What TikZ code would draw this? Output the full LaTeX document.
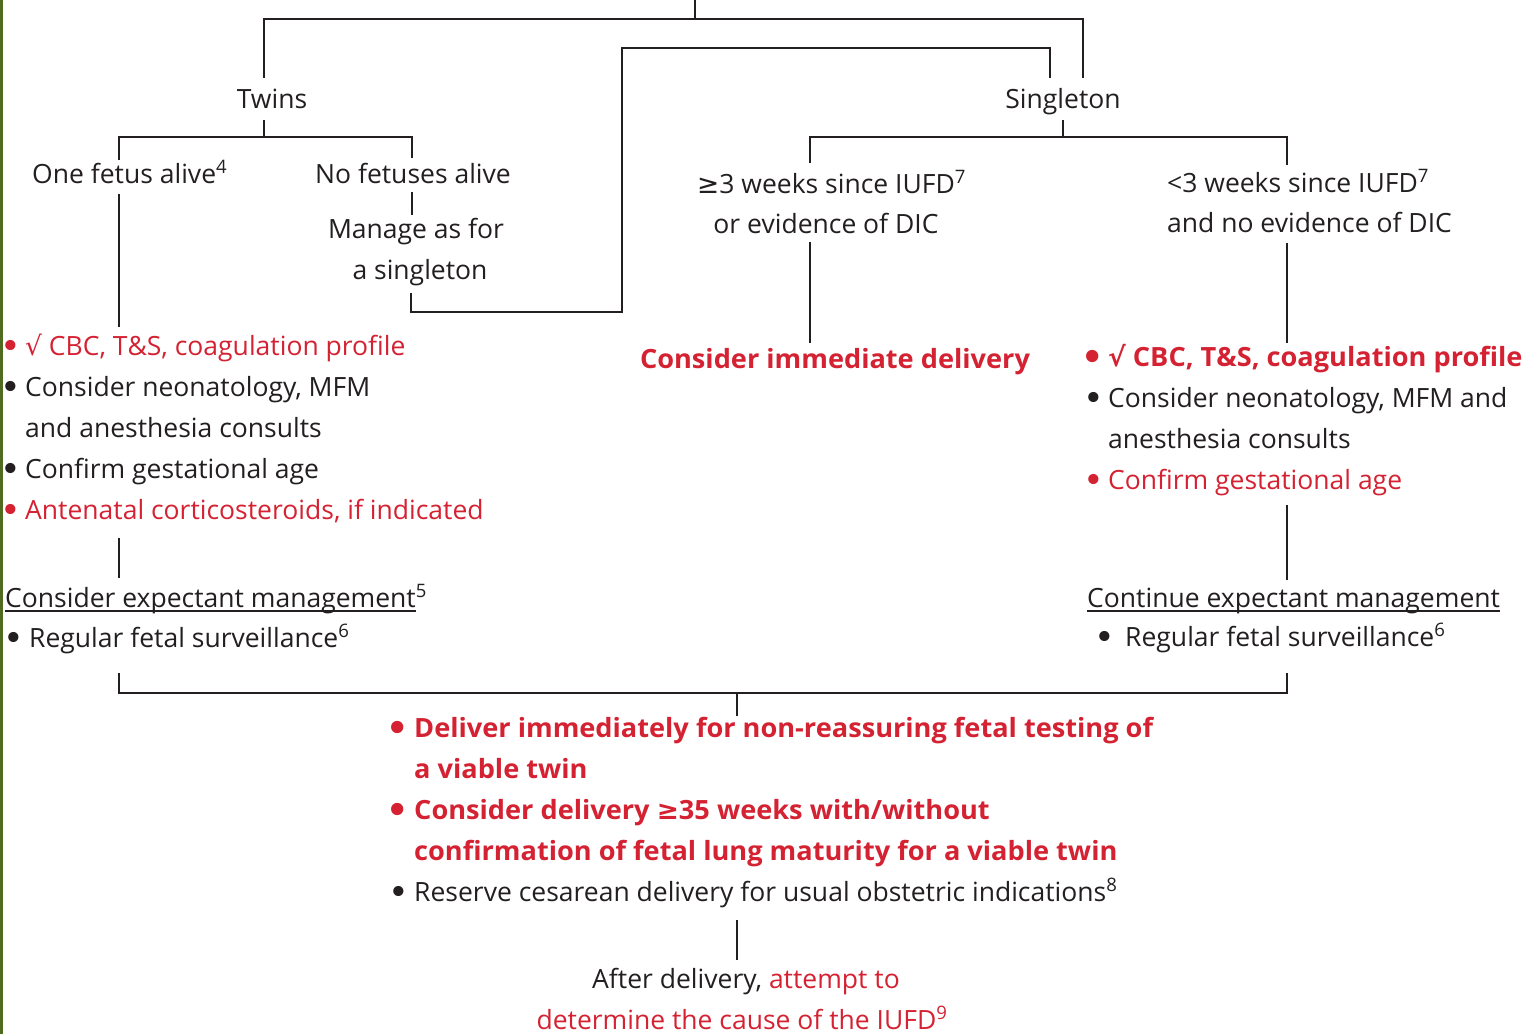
\documentclass[tikz,border=0pt]{standalone}
\usepackage{fontspec}
\setmainfont{Open Sans}[BoldFeatures={FakeStretch=1.025}]
\newfontfamily\symf{DejaVu Sans}
\definecolor{ink}{HTML}{231F20}
\definecolor{tred}{HTML}{D42232}
\definecolor{edge}{HTML}{4E6B1F}
\newcommand\fs{\fontsize{26.5}{32}\selectfont}
\newcommand\bul[1]{\llap{\raisebox{-3.5pt}{\symf\fontsize{35}{35}\selectfont •}\hspace{#1pt}}}
\newcommand\sqsym{{\symf √}}
\newcommand\gesym{{\symf ≥}}
\begin{document}
\begin{tikzpicture}[x=1pt,y=-1pt,
  every node/.style={inner sep=0pt,text=ink,font=\fs},
  lt/.style={anchor=base west},
  ct/.style={anchor=base},
  rtx/.style={text=tred},
  bd/.style={font=\fs\bfseries},
  conn/.style={draw=ink,line width=2pt},
  uline/.style={draw=ink,line width=1.4pt}]
\useasboundingbox (0,0) rectangle (1526,1034);
\fill[edge] (0,0) rectangle (3,1034);
% ---------- text nodes ----------
\node[ct] (twins) at (272,108) {Twins};
\node[ct] (single) at (1063,108) {Singleton};
\node[lt] (one) at (32,183) {One fetus alive\textsuperscript{4}};
\node[ct] (nofet) at (413,183) {No fetuses alive};
\node[ct] (man1) at (416,238) {Manage as for};
\node[ct] (man2) at (420,279) {a singleton};
\node[lt] (ge1) at (697,193) {\gesym3 weeks since IUFD\textsuperscript{7}};
\node[ct] (ge2) at (826,233) {or evidence of DIC};
\node[lt] (lt1) at (1167,192) {<3 weeks since IUFD\textsuperscript{7}};
\node[lt] (lt2) at (1167,232) {and no evidence of DIC};
\node[ct,bd,rtx] (immed) at (835,368) {Consider immediate delivery};
% left list
\node[lt,rtx] (l1) at (25,355) {\bul{4}\sqsym\ CBC, T\&S, coagulation profile};
\node[lt] (l2) at (25,396) {\bul{4}Consider neonatology, MFM};
\node[lt] (l3) at (25,437) {and anesthesia consults};
\node[lt] (l4) at (25,478) {\bul{4}Confirm gestational age};
\node[lt,rtx] (l5) at (25,519) {\bul{4}Antenatal corticosteroids, if indicated};
\node[lt] (lcem) at (5,607) {Consider expectant management\rlap{\textsuperscript{5}}};
\node[lt] (lreg) at (29,647) {\bul{5}Regular fetal surveillance\textsuperscript{6}};
% right list
\node[lt,bd,rtx] (r1) at (1108,366) {\bul{4}\sqsym\ CBC, T\&S, coagulation profile};
\node[lt] (r2) at (1108,407) {\bul{4}Consider neonatology, MFM and};
\node[lt] (r3) at (1108,448) {anesthesia consults};
\node[lt,rtx] (r4) at (1108,489) {\bul{4}Confirm gestational age};
\node[lt] (rcem) at (1087,607) {Continue expectant management};
\node[lt] (rreg) at (1125,646) {\bul{10}Regular fetal surveillance\textsuperscript{6}};
% bottom list
\node[lt,bd,rtx] (b1) at (414,737) {\bul{5}Deliver immediately for non-reassuring fetal testing of};
\node[lt,bd,rtx] (b2) at (414,778) {a viable twin};
\node[lt,bd,rtx] (b3) at (414,819) {\bul{5}Consider delivery \gesym35 weeks with/without};
\node[lt,bd,rtx] (b4) at (414,860) {confirmation of fetal lung maturity for a viable twin};
\node[lt] (b5) at (414,901) {\bul{5}Reserve cesarean delivery for usual obstetric indications\textsuperscript{8}};
\node[ct] (aft1) at (746,988) {After delivery, \textcolor{tred}{attempt to}};
\node[ct,rtx] (aft2) at (742,1029) {determine the cause of the IUFD\textsuperscript{9}};
% underlines
\draw[uline] ([yshift=-4pt]lcem.base west) -- ([yshift=-4pt]lcem.base east);
\draw[uline] ([yshift=-4pt]rcem.base west) -- ([yshift=-4pt]rcem.base east);
% ---------- connectors ----------
\coordinate (root) at (695,0);
\coordinate (rootj) at (695,19);
\coordinate (twT) at (264,78);
\coordinate (siT) at (1083,78);
\draw[conn] (root) -- (rootj);
\draw[conn] (twT) |- (rootj) -| (siT);
% no fetuses -> singleton
\coordinate (mB) at (411,293);
\coordinate (loopA) at (622,312);
\coordinate (loopB) at (622,48);
\coordinate (siT2) at (1050,78);
\draw[conn] (mB) |- (loopA) -- (loopB) -| (siT2);
% twins split
\coordinate (twB) at (264,120);
\coordinate (twJ) at (264,137);
\coordinate (oneT) at (119,160);
\coordinate (noT) at (412,158);
\draw[conn] (twB) -- (twJ);
\draw[conn] (oneT) |- (twJ) -| (noT);
\coordinate (oneB) at (119,194);
\coordinate (l1T) at (119,327);
\draw[conn] (oneB) -- (l1T);
\coordinate (noB) at (412,192);
\coordinate (manT) at (412,215);
\draw[conn] (noB) -- (manT);
% singleton split
\coordinate (siB) at (1063,120);
\coordinate (siJ) at (1063,137);
\coordinate (geT) at (810,163);
\coordinate (ltT) at (1287,165);
\draw[conn] (siB) -- (siJ);
\draw[conn] (geT) |- (siJ) -| (ltT);
\coordinate (geB) at (810,242);
\coordinate (immT) at (810,343);
\draw[conn] (geB) -- (immT);
\coordinate (ltB) at (1287,243);
\coordinate (r1T) at (1287,343);
\draw[conn] (ltB) -- (r1T);
% lists to expectant management
\coordinate (l5B) at (119,538);
\coordinate (lcemT) at (119,578);
\draw[conn] (l5B) -- (lcemT);
\coordinate (r4B) at (1287,505);
\coordinate (rcemT) at (1287,580);
\draw[conn] (r4B) -- (rcemT);
% merge
\coordinate (lregB) at (119,673);
\coordinate (rregB) at (1287,673);
\coordinate (mJ) at (737,693);
\coordinate (b1T) at (737,716);
\draw[conn] (lregB) |- (mJ) -| (rregB);
\draw[conn] (mJ) -- (b1T);
\coordinate (b5B) at (737,920);
\coordinate (aftT) at (737,960);
\draw[conn] (b5B) -- (aftT);
\end{tikzpicture}
\end{document}
